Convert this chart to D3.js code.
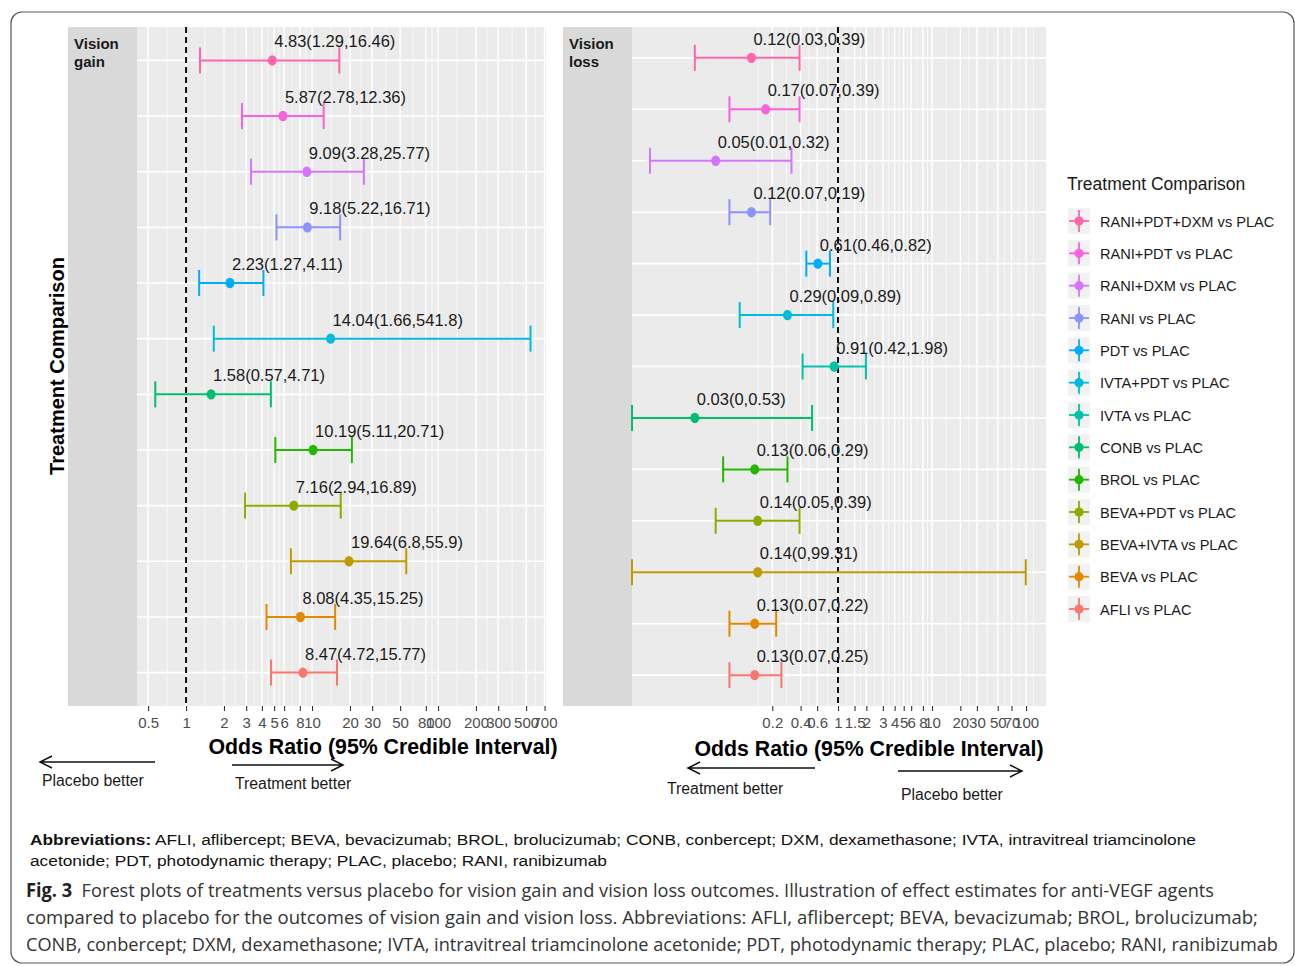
<!DOCTYPE html>
<html>
<head>
<meta charset="utf-8">
<script src="https://cdn.jsdelivr.net/npm/d3@7"></script>
<style>
  body { margin: 0; background: #fff; }
  svg { display: block; font-family: "Liberation Sans", Arial, sans-serif; }
  .cap { white-space: pre; }
</style>
</head>
<body>
<svg id="chart" width="1295" height="966"></svg>
<script>
// legend order (top to bottom) and ggplot hue colours
const comparisons = ["RANI+PDT+DXM vs PLAC", "RANI+PDT vs PLAC", "RANI+DXM vs PLAC", "RANI vs PLAC",
  "PDT vs PLAC", "IVTA+PDT vs PLAC", "IVTA vs PLAC", "CONB vs PLAC", "BROL vs PLAC",
  "BEVA+PDT vs PLAC", "BEVA+IVTA vs PLAC", "BEVA vs PLAC", "AFLI vs PLAC"];
const colors = ["#FF65AC", "#F962DD", "#D575FE", "#8B93FF", "#00ACFC", "#00BBDA", "#00C1AB",
  "#00BE70", "#24B700", "#8CAB00", "#BE9C00", "#E18A00", "#F8766D"];

// vision gain (no IVTA estimate)
const gainRows = ["RANI+PDT+DXM vs PLAC", "RANI+PDT vs PLAC", "RANI+DXM vs PLAC", "RANI vs PLAC",
  "PDT vs PLAC", "IVTA+PDT vs PLAC", "CONB vs PLAC", "BROL vs PLAC",
  "BEVA+PDT vs PLAC", "BEVA+IVTA vs PLAC", "BEVA vs PLAC", "AFLI vs PLAC"];
const gainOR   = [4.83, 5.87, 9.09, 9.18, 2.23, 14.04, 1.58, 10.19, 7.16, 19.64, 8.08, 8.47];
const gainLow  = [1.29, 2.78, 3.28, 5.22, 1.27, 1.66, 0.57, 5.11, 2.94, 6.8, 4.35, 4.72];
const gainHigh = [16.46, 12.36, 25.77, 16.71, 4.11, 541.8, 4.71, 20.71, 16.89, 55.9, 15.25, 15.77];

// vision loss
const lossRows = comparisons;
const lossOR   = [0.12, 0.17, 0.05, 0.12, 0.61, 0.29, 0.91, 0.03, 0.13, 0.14, 0.14, 0.13, 0.13];
const lossLow  = [0.03, 0.07, 0.01, 0.07, 0.46, 0.09, 0.42, 0, 0.06, 0.05, 0, 0.07, 0.07];
const lossHigh = [0.39, 0.39, 0.32, 0.19, 0.82, 0.89, 1.98, 0.53, 0.29, 0.39, 99.31, 0.22, 0.25];

const gainTicks = [0.5, 1, 2, 3, 4, 5, 6, 8, 10, 20, 30, 50, 80, 100, 200, 300, 500, 700];
const lossTicks = [0.2, 0.4, 0.6, 1, 1.5, 2, 3, 4, 5, 6, 8, 10, 20, 30, 50, 70, 100];
const gainLimits = [0.408, 719];
const lossLimits = [0.00644, 163];

const svg = d3.select("#chart");
const colorOf = d3.scaleOrdinal().domain(comparisons).range(colors);
const panelTop = 27, panelBottom = 706;

// outer frame of the figure
svg.append("rect")
  .attr("x", 11).attr("y", 12).attr("width", 1283).attr("height", 951)
  .attr("rx", 11).attr("fill", "none").attr("stroke", "#555").attr("stroke-width", 1.2);

function drawPanel(cfg) {
  const g = svg.append("g");
  const x = d3.scaleLog().domain(cfg.limits).range([cfg.dataLeft, cfg.right]);
  const y = d3.scalePoint().domain(cfg.rows).range([panelTop, panelBottom]).padding(0.6);
  const xc = v => x(Math.max(v, cfg.limits[0]));

  // strip + panel background
  g.append("rect").attr("x", cfg.left).attr("y", panelTop)
    .attr("width", cfg.dataLeft - cfg.left).attr("height", panelBottom - panelTop)
    .attr("fill", "#D9D9D9");
  g.append("rect").attr("x", cfg.dataLeft).attr("y", panelTop)
    .attr("width", cfg.right - cfg.dataLeft).attr("height", panelBottom - panelTop)
    .attr("fill", "#EBEBEB");

  // minor grid: midpoints (in log space) between breaks
  const minor = [];
  for (let i = 0; i < cfg.ticks.length - 1; i++) {
    minor.push(Math.sqrt(cfg.ticks[i] * cfg.ticks[i + 1]));
  }
  minor.push(cfg.ticks[0] / Math.sqrt(cfg.ticks[1] / cfg.ticks[0]));
  minor.push(cfg.ticks[cfg.ticks.length - 1] * Math.sqrt(cfg.ticks[cfg.ticks.length - 1] / cfg.ticks[cfg.ticks.length - 2]));
  const inside = v => v > cfg.limits[0] && v < cfg.limits[1];

  g.selectAll(".minor").data(minor.filter(inside)).enter().append("line")
    .attr("x1", d => x(d)).attr("x2", d => x(d))
    .attr("y1", panelTop).attr("y2", panelBottom)
    .attr("stroke", "#fff").attr("stroke-width", 0.7);
  g.selectAll(".major").data(cfg.ticks.filter(inside)).enter().append("line")
    .attr("x1", d => x(d)).attr("x2", d => x(d))
    .attr("y1", panelTop).attr("y2", panelBottom)
    .attr("stroke", "#fff").attr("stroke-width", 1.4);
  g.selectAll(".hgrid").data(cfg.rows).enter().append("line")
    .attr("x1", cfg.dataLeft).attr("x2", cfg.right)
    .attr("y1", d => y(d)).attr("y2", d => y(d))
    .attr("stroke", "#fff").attr("stroke-width", 1.6);

  // reference line at OR = 1
  g.append("line")
    .attr("x1", x(1)).attr("x2", x(1)).attr("y1", panelTop).attr("y2", panelBottom)
    .attr("stroke", "#111").attr("stroke-width", 2).attr("stroke-dasharray", "6,4");

  const rows = cfg.rows.map((r, i) => ({
    name: r, or: cfg.or[i], lo: cfg.low[i], hi: cfg.high[i]
  }));

  const bars = g.selectAll(".bar").data(rows).enter().append("g")
    .attr("stroke", d => colorOf(d.name)).attr("fill", d => colorOf(d.name))
    .attr("stroke-width", 2);
  bars.append("line")
    .attr("x1", d => xc(d.lo)).attr("x2", d => xc(d.hi))
    .attr("y1", d => y(d.name)).attr("y2", d => y(d.name));
  bars.append("line")
    .attr("x1", d => xc(d.lo)).attr("x2", d => xc(d.lo))
    .attr("y1", d => y(d.name) - 13).attr("y2", d => y(d.name) + 13);
  bars.append("line")
    .attr("x1", d => xc(d.hi)).attr("x2", d => xc(d.hi))
    .attr("y1", d => y(d.name) - 13).attr("y2", d => y(d.name) + 13);
  bars.append("ellipse")
    .attr("cx", d => x(d.or)).attr("cy", d => y(d.name))
    .attr("rx", 4.5).attr("ry", 5.2).attr("stroke", "none");

  g.selectAll(".lab").data(rows).enter().append("text")
    .attr("x", d => x(d.or) + 2).attr("y", d => y(d.name) - 13)
    .attr("font-size", 16.5).attr("fill", "#1a1a1a")
    .text(d => `${d.or}(${d.lo},${d.hi})`);

  // strip label
  const st = g.append("text").attr("x", cfg.left + 6).attr("y", panelTop + 22)
    .attr("font-size", 15).attr("font-weight", "bold").attr("fill", "#1a1a1a");
  cfg.strip.forEach((w, i) => st.append("tspan").attr("x", cfg.left + 6).attr("dy", i ? 18 : 0).text(w));

  // x axis
  const ax = g.append("g").attr("transform", `translate(0,${panelBottom})`)
    .call(d3.axisBottom(x).tickValues(cfg.ticks).tickFormat(d3.format("")).tickSize(5).tickPadding(6));
  ax.select(".domain").remove();
  ax.selectAll(".tick line").attr("stroke", "#333").attr("stroke-width", 1.1);
  ax.selectAll(".tick text").attr("font-size", 15).attr("fill", "#4D4D4D")
    .attr("font-family", "Liberation Sans, Arial, sans-serif");
}

drawPanel({
  left: 68, dataLeft: 137, right: 546, limits: gainLimits, ticks: gainTicks,
  rows: gainRows, or: gainOR, low: gainLow, high: gainHigh, strip: ["Vision", "gain"]
});
drawPanel({
  left: 563, dataLeft: 632, right: 1046, limits: lossLimits, ticks: lossTicks,
  rows: lossRows, or: lossOR, low: lossLow, high: lossHigh, strip: ["Vision", "loss"]
});

// y axis title
svg.append("text")
  .attr("transform", "translate(64,366) rotate(-90)")
  .attr("text-anchor", "middle").attr("font-size", 20).attr("font-weight", "bold")
  .text("Treatment Comparison");

// x axis titles
[[383, 754], [869, 756]].forEach(p => {
  svg.append("text").attr("x", p[0]).attr("y", p[1]).attr("text-anchor", "middle")
    .attr("font-size", 21.3).attr("font-weight", "bold").text("Odds Ratio (95% Credible Interval)");
});

// direction arrows
function arrow(x1, x2, yy) {
  const dir = x2 > x1 ? -1 : 1;
  svg.append("path")
    .attr("d", `M${x1},${yy}H${x2}M${x2 + dir * 12},${yy - 6}L${x2},${yy}L${x2 + dir * 12},${yy + 6}`)
    .attr("fill", "none").attr("stroke", "#111").attr("stroke-width", 1.5);
}
arrow(155, 40, 762);
arrow(232, 343, 765);
arrow(815, 688, 768);
arrow(898, 1022, 771);
[["Placebo better", 42, 786], ["Treatment better", 235, 789],
 ["Treatment better", 667, 794], ["Placebo better", 901, 800]].forEach(t => {
  svg.append("text").attr("x", t[1]).attr("y", t[2]).attr("font-size", 15.8)
    .attr("fill", "#1a1a1a").text(t[0]);
});

// legend
const legend = svg.append("g");
legend.append("text").attr("x", 1067).attr("y", 190).attr("font-size", 17.5)
  .attr("fill", "#1a1a1a").text("Treatment Comparison");
const ly = d3.scalePoint().domain(comparisons).range([221, 609]);
const items = legend.selectAll(".item").data(comparisons).enter().append("g")
  .attr("transform", d => `translate(1079,${ly(d)})`);
items.append("rect").attr("x", -11).attr("y", -13).attr("width", 22).attr("height", 26)
  .attr("fill", "#F2F2F2");
items.append("line").attr("x1", -10).attr("x2", 10).attr("stroke", d => colorOf(d)).attr("stroke-width", 1.8);
items.append("line").attr("y1", -11).attr("y2", 11).attr("stroke", d => colorOf(d)).attr("stroke-width", 1.8);
items.append("circle").attr("r", 4.6).attr("fill", d => colorOf(d));
items.append("text").attr("x", 21).attr("y", 5.5).attr("font-size", 14.6)
  .attr("fill", "#1a1a1a").text(d => d);

// abbreviations footnote
const ab1 = svg.append("text").attr("class", "cap").attr("x", 30).attr("y", 845)
  .attr("font-size", 15.5).attr("fill", "#111").attr("textLength", 1166).attr("lengthAdjust", "spacingAndGlyphs");
ab1.append("tspan").attr("font-weight", "bold").text("Abbreviations:");
ab1.append("tspan").text(" AFLI, aflibercept; BEVA, bevacizumab; BROL, brolucizumab; CONB, conbercept; DXM, dexamethasone; IVTA, intravitreal triamcinolone");
svg.append("text").attr("x", 30).attr("y", 866).attr("font-size", 15.5).attr("fill", "#111")
  .attr("textLength", 577).attr("lengthAdjust", "spacingAndGlyphs")
  .text("acetonide; PDT, photodynamic therapy; PLAC, placebo; RANI, ranibizumab");

// figure caption
const capFont = "'Open Sans', 'Noto Sans', sans-serif";
const c1 = svg.append("text").attr("class", "cap").attr("x", 26).attr("y", 897)
  .attr("font-size", 19).attr("fill", "#333").attr("font-family", capFont)
  .attr("textLength", 1188).attr("lengthAdjust", "spacingAndGlyphs");
c1.append("tspan").attr("font-weight", "bold").attr("fill", "#222").text("Fig. 3");
c1.append("tspan").text("  Forest plots of treatments versus placebo for vision gain and vision loss outcomes. Illustration of effect estimates for anti-VEGF agents");
[["compared to placebo for the outcomes of vision gain and vision loss. Abbreviations: AFLI, aflibercept; BEVA, bevacizumab; BROL, brolucizumab;", 924, 1232],
 ["CONB, conbercept; DXM, dexamethasone; IVTA, intravitreal triamcinolone acetonide; PDT, photodynamic therapy; PLAC, placebo; RANI, ranibizumab", 951, 1252]]
  .forEach(l => {
    svg.append("text").attr("x", 26).attr("y", l[1]).attr("font-size", 18.5).attr("fill", "#333")
      .attr("font-family", capFont).attr("textLength", l[2]).attr("lengthAdjust", "spacingAndGlyphs")
      .text(l[0]);
  });
</script>
</body>
</html>
